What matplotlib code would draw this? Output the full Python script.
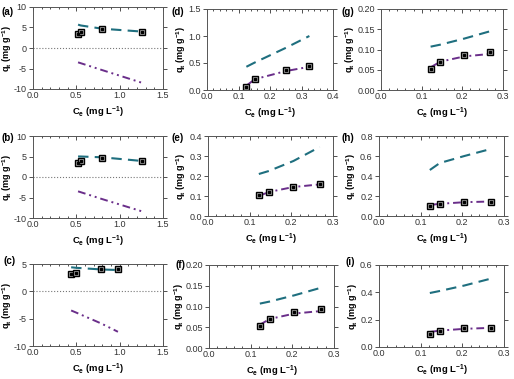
import numpy as np
import matplotlib
matplotlib.use("Agg")
import matplotlib.pyplot as plt

plt.rcParams["font.family"] = ["Liberation Sans", "DejaVu Sans"]
plt.rcParams["mathtext.fontset"] = "custom"
plt.rcParams["mathtext.rm"] = "Liberation Sans"
plt.rcParams["mathtext.bf"] = "Liberation Sans:bold"

# panel (a)-(c): experimental data and two model fits
ce_a = [0.52, 0.55, 0.80, 1.26]
qe_a = [3.5, 3.9, 4.6, 4.0]
fit1_a = [5.7, 5.5, 4.7, 4.0]
fit2_a = [-3.5, -3.7, -5.4, -8.5]

ce_b = [0.52, 0.55, 0.80, 1.26]
qe_b = [3.4, 3.9, 4.6, 4.0]
fit1_b = [5.0, 5.0, 4.8, 3.9]
fit2_b = [-3.5, -3.7, -5.4, -8.4]

ce_c = [0.44, 0.50, 0.79, 0.98]
qe_c = [3.2, 3.4, 4.0, 4.0]
fit1_c = [4.4, 4.3, 4.0, 3.9]
fit2_c = [-3.5, -3.9, -5.9, -7.4]

ce_d = [0.125, 0.152, 0.25, 0.325]
qe_d = [0.05, 0.21, 0.37, 0.45]
fit1_d = [0.43, 0.51, 0.78, 1.0]
fit2_d = [0.08, 0.20, 0.35, 0.43]

ce_e = [0.122, 0.146, 0.205, 0.268]
qe_e = [0.103, 0.118, 0.147, 0.158]
fit1_e = [0.21, 0.225, 0.275, 0.345]
fit2_e = [0.10, 0.12, 0.145, 0.158]

ce_f = [0.122, 0.146, 0.205, 0.268]
qe_f = [0.053, 0.070, 0.086, 0.093]
fit1_f = [0.107, 0.112, 0.127, 0.145]
fit2_f = [0.056, 0.070, 0.083, 0.089]

ce_g = [0.122, 0.146, 0.205, 0.268]
qe_g = [0.053, 0.070, 0.086, 0.093]
fit1_g = [0.107, 0.112, 0.127, 0.145]
fit2_g = [0.056, 0.070, 0.083, 0.089]

ce_h = [0.122, 0.146, 0.205, 0.268]
qe_h = [0.105, 0.120, 0.140, 0.145]
fit1_h = [0.46, 0.53, 0.60, 0.67]
fit2_h = [0.11, 0.122, 0.138, 0.145]

ce_i = [0.122, 0.146, 0.205, 0.268]
qe_i = [0.098, 0.118, 0.140, 0.142]
fit1_i = [0.395, 0.41, 0.45, 0.50]
fit2_i = [0.11, 0.12, 0.133, 0.14]

panels = [
    ("(a)", ce_a, qe_a, fit1_a, fit2_a, (0, 1.5), [0.0, 0.5, 1.0, 1.5], (-10, 10), [-10, -5, 0, 5, 10], True),
    ("(b)", ce_b, qe_b, fit1_b, fit2_b, (0, 1.5), [0.0, 0.5, 1.0, 1.5], (-10, 10), [-10, -5, 0, 5, 10], True),
    ("(c)", ce_c, qe_c, fit1_c, fit2_c, (0, 1.5), [0.0, 0.5, 1.0, 1.5], (-10, 5), [-10, -5, 0, 5], True),
    ("(d)", ce_d, qe_d, fit1_d, fit2_d, (0, 0.4), [0.0, 0.1, 0.2, 0.3, 0.4], (0, 1.5), [0.0, 0.5, 1.0, 1.5], False),
    ("(e)", ce_e, qe_e, fit1_e, fit2_e, (0, 0.3), [0.0, 0.1, 0.2, 0.3], (0, 0.4), [0.0, 0.1, 0.2, 0.3, 0.4], False),
    ("(f)", ce_f, qe_f, fit1_f, fit2_f, (0, 0.3), [0.0, 0.1, 0.2, 0.3], (0, 0.2), [0.00, 0.05, 0.10, 0.15, 0.20], False),
    ("(g)", ce_g, qe_g, fit1_g, fit2_g, (0, 0.3), [0.0, 0.1, 0.2, 0.3], (0, 0.2), [0.00, 0.05, 0.10, 0.15, 0.20], False),
    ("(h)", ce_h, qe_h, fit1_h, fit2_h, (0, 0.3), [0.0, 0.1, 0.2, 0.3], (0, 0.8), [0.0, 0.2, 0.4, 0.6, 0.8], False),
    ("(i)", ce_i, qe_i, fit1_i, fit2_i, (0, 0.3), [0.0, 0.1, 0.2, 0.3], (0, 0.6), [0.0, 0.2, 0.4, 0.6], False),
]

# axes boxes in pixels: left, top, right, bottom
W, H = 514, 379
boxes = [
    (33, 7, 163, 89), (33, 136, 163, 218), (33, 264, 163, 346),
    (207, 9, 333, 90), (208, 136, 333, 216), (209, 265, 334, 348),
    (381, 9, 503, 90), (379, 136, 504, 216), (379, 265, 504, 347),
]
ylabels_fmt = ["%g", "%g", "%g", "%.1f", "%.1f", "%.2f", "%.2f", "%.1f", "%.1f"]
# right edge of the rotated y label, in pixels
ylab_x = [14, 14, 14, 188, 188, 186, 357, 358, 360]
tag_pos = [(2, 12), (2, 138), (4, 261), (172, 12), (172, 138), (176, 265), (342, 12), (342, 138), (345, 262)]

fig = plt.figure(figsize=(W / 100, H / 100), dpi=100)

for (label, ce, qe, f1, f2, xl, xt, yl, yt, zero), (l, t, r, b), yf, yx, (tx, ty) in zip(
        panels, boxes, ylabels_fmt, ylab_x, tag_pos):
    ax = fig.add_axes([l / W, 1 - b / H, (r - l) / W, (b - t) / H])
    ax.plot(ce, f1, linestyle=(0, (5, 3)), color="#1f6f7f", lw=1.5)
    ax.plot(ce, f2, linestyle=(0, (4, 2, 1, 2, 1, 2)), color="#6a2e8a", lw=1.4)
    ax.plot(ce, qe, "s", ms=5, mfc="#b0b0b0", mec="black", mew=1.0, ls="none")
    ax.plot(ce, qe, "s", ms=1.5, mfc="black", mec="black", ls="none")
    if zero:
        ax.axhline(0, color="#777777", ls=":", lw=0.8)
    ax.set_xlim(*xl)
    ax.set_ylim(*yl)
    ax.set_xticks(xt)
    ax.set_yticks(yt)
    ax.set_xticklabels(["%.1f" % v for v in xt])
    ax.set_yticklabels([yf % v for v in yt])
    ax.minorticks_on()
    ax.tick_params(axis="both", which="both", labelsize=6.5, width=0.6, colors="#333333", pad=1.5)
    ax.tick_params(axis="x", which="both", direction="in", top=True)
    ax.tick_params(axis="y", which="both", direction="out", right=True)
    ax.tick_params(which="major", length=3)
    ax.tick_params(which="minor", length=1.5)
    ax.tick_params(axis="y", which="minor", left=False, right=False)
    for s in ax.spines.values():
        s.set_color("#555555")
        s.set_linewidth(0.7)
    ax.set_xlabel(r"$\mathbf{C_e}$ (mg L$^{\mathbf{-1}}$)", fontsize=6.8, fontweight="bold", labelpad=3)
    ax.set_ylabel(r"$\mathbf{q_t}$ (mg g$^{\mathbf{-1}}$)", fontsize=6.5, fontweight="bold")
    ax.yaxis.set_label_coords((yx - l) / (r - l), 0.5)
    fig.text(tx / W, 1 - ty / H, label, fontsize=7, fontweight="bold", va="center", ha="left")

fig.savefig("out.png", dpi=100)
